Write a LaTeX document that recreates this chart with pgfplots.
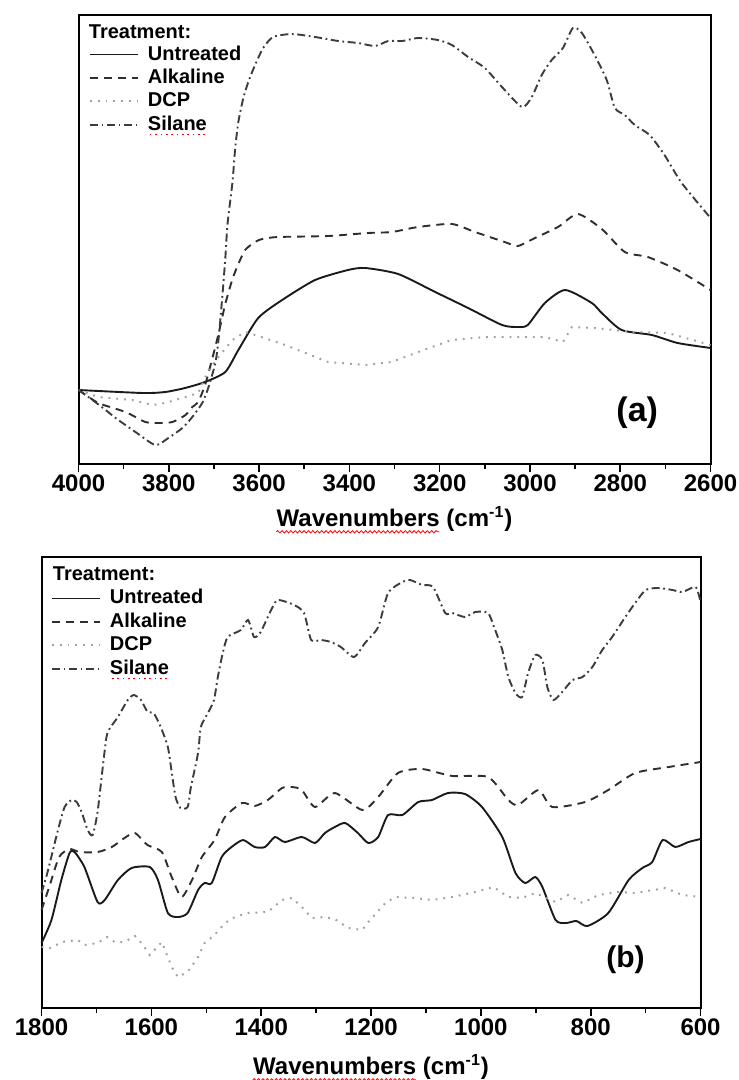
\documentclass[border=0pt]{standalone}
\usepackage{fontspec}
\setmainfont{Liberation Sans}
\usepackage{pgfplots}
\pgfplotsset{compat=1.18}
\usetikzlibrary{decorations.pathmorphing}
\newlength\tmpl
\newlength\wavw
% red dotted spell-check underline, made of small rules
\newcommand\reddots[1]{\settowidth{\tmpl}{#1}\rlap{#1}\raisebox{-2.6pt}{\color{red}\hbox to\tmpl{\xleaders\hbox to 2.6pt{\hss\rule{0.8pt}{0.8pt}\hss}\hfil}}}
\definecolor{cSolid}{HTML}{1A1A1A}
\definecolor{cDash}{HTML}{2E2E2E}
\definecolor{cDot}{HTML}{A0A0A0}
\definecolor{cDashDot}{HTML}{3C3C3C}
\tikzset{wavy/.style={red, line width=0.4pt, decorate,
    decoration={snake, amplitude=0.6pt, segment length=2.2pt}}}

\pgfplotsset{
  ftir/.style={
    scale only axis,
    x dir=reverse,
    axis line style={line width=1pt},
    tick align=outside,
    xtick pos=bottom,
    ytick=\empty,
    minor x tick num=1,
    major tick length=4pt,
    minor tick length=2.5pt,
    tick style={line width=0.8pt, black},
    tick label style={font=\fontsize{12}{14}\selectfont\bfseries},
    xticklabel style={yshift=2pt},
    /pgf/number format/assume math mode=true,
    /pgf/number format/1000 sep={},
    clip=false,
    legend cell align=left,
    legend image code/.code={\draw[#1] (0pt,0pt) -- (24pt,0pt);},
    legend style={draw=none, fill=none, anchor=north west,
      font=\fontsize{10}{12}\selectfont\bfseries,
      row sep=2.2pt, column sep=4.5pt, inner sep=0pt,
      nodes={inner sep=0pt, text height=7.5pt, text depth=2pt}},
    every axis plot/.append style={line width=0.95pt},
  },
  untreated/.style={cSolid, solid, smooth, tension=0.4},
  alkaline/.style={cDash, dash pattern=on 4pt off 3pt, smooth, tension=0.4},
  dcp/.style={cDot, line width=1pt, dash pattern=on 0.9pt off 3pt},
  silane/.style={cDashDot, dash pattern=on 4pt off 1.8pt on 0.9pt off 1.8pt, smooth, tension=0.4},
}

\begin{document}
\settowidth{\wavw}{\fontsize{12}{14}\selectfont\bfseries Wavenumbers}
\begin{tikzpicture}
\useasboundingbox (0,0) rectangle (366.5pt,-540pt);

% ---------------- panel (a) ----------------
\begin{axis}[ftir, at={(36.5pt,-232pt)}, anchor=south west,
  width=316pt, height=224.5pt,
  xmin=2600, xmax=4000, ymin=0, ymax=449,
  xtick={2600,2800,...,4000},
  legend style={at={(rel axis cs:0.0158,0.934)}}]
\addplot[untreated] coordinates {
(4000,74)(3858,71)(3808,72)(3764,76)(3720,82)(3675,92)(3646,114)(3602,146)
(3549,164)(3476,184)(3403,194)(3365,196)(3292,190)(3210,172)(3137,156)
(3062,139)(3027,137)(3005,139)(2967,161)(2922,174)(2863,161)(2841,151)
(2797,134)(2730,129)(2673,121)(2600,116)};
\addlegendentry{Untreated}
\addplot[alkaline] coordinates {
(4000,74)(3956,61)(3896,52)(3852,42)(3823,41)(3792,42)(3763,49)(3748,57)
(3735,62)(3719,80)(3704,105)(3690,130)(3675,160)(3659,185)(3646,200)
(3631,214)(3609,222)(3593,225)(3558,227)(3447,228)(3359,231)(3306,232)
(3248,237)(3173,240)(3122,232)(3056,222)(3027,218)(2989,226)(2938,237)
(2894,250)(2841,235)(2790,212)(2739,207)(2673,194)(2600,174)};
\addlegendentry{Alkaline}
\addplot[dcp] coordinates {
(4000,74)(3956,67)(3881,64)(3836,59)(3808,61)(3770,66)(3735,71)(3712,94)
(3690,107)(3659,124)(3631,132)(3609,129)(3542,119)(3447,102)(3365,99)
(3306,102)(3248,112)(3173,124)(3100,127)(3027,127)(2967,127)(2927,122)
(2907,137)(2857,136)(2768,132)(2695,131)(2600,119)};
\addlegendentry{DCP}
\addplot[silane] coordinates {
(4000,74)(3978,67)(3940,54)(3918,46)(3874,32)(3830,19)(3801,26)(3770,36)
(3748,47)(3726,61)(3712,77)(3697,101)(3690,124)(3682,165)(3675,205)
(3670,240)(3659,282)(3653,316)(3646,342)(3635,366)(3624,382)(3609,399)
(3591,416)(3569,427)(3527,430)(3476,427)(3425,423)(3381,421)(3343,418)
(3314,423)(3283,423)(3248,426)(3204,424)(3173,419)(3137,407)(3100,396)
(3062,377)(3018,357)(2996,367)(2974,389)(2952,404)(2927,416)(2905,436)
(2885,431)(2857,409)(2830,384)(2812,356)(2790,349)(2768,339)(2735,329)
(2702,309)(2664,281)(2600,246)};
\addlegendentry{\reddots{Silane}}
\node[anchor=base west, font=\fontsize{10}{12}\selectfont\bfseries, inner sep=0pt]
  at (rel axis cs:0.0158,0.948) {Treatment:};
\node[font=\fontsize{17}{20}\selectfont\bfseries]
  at (rel axis cs:0.884,0.114) {(a)};
\node[name=xla, anchor=base, inner sep=0pt, font=\fontsize{12}{14}\selectfont\bfseries]
  at (rel axis cs:0.5,0) [yshift=-31.3pt] {Wavenumbers (cm\textsuperscript{-1})};
\end{axis}
\draw[wavy] ([yshift=-2.6pt]xla.base west) -- ++(\wavw,0);

% ---------------- panel (b) ----------------
\begin{axis}[ftir, at={(18pt,-504pt)}, anchor=south west,
  width=329.5pt, height=225.5pt,
  xmin=600, xmax=1800, ymin=4, ymax=455,
  xtick={600,800,...,1800},
  legend style={at={(rel axis cs:0.0137,0.930)}}]
\addplot[untreated] coordinates {
(1800,69)(1782,92)(1764,132)(1749,159)(1740,160)(1722,145)(1698,110)
(1685,112)(1661,132)(1636,144)(1603,145)(1588,132)(1570,99)(1552,95)
(1534,99)(1515,122)(1503,129)(1490,129)(1472,155)(1454,165)(1433,172)
(1412,165)(1393,165)(1375,175)(1357,170)(1326,175)(1302,169)(1284,179)
(1266,185)(1247,189)(1224,179)(1205,169)(1187,175)(1169,197)(1143,197)
(1114,210)(1089,212)(1060,219)(1029,218)(998,205)(961,175)(937,139)
(919,129)(901,135)(888,125)(864,92)(845,89)(826,91)(806,86)(768,99)
(731,132)(706,144)(688,150)(669,172)(646,165)(622,170)(600,173)};
\addlegendentry{Untreated}
\addplot[alkaline] coordinates {
(1800,102)(1786,125)(1768,155)(1749,163)(1731,160)(1698,160)(1672,165)
(1649,174)(1630,179)(1607,167)(1581,160)(1563,135)(1545,115)(1526,132)
(1508,155)(1485,172)(1466,195)(1435,209)(1412,206)(1388,212)(1362,224)
(1344,225)(1326,222)(1302,205)(1266,219)(1216,202)(1187,215)(1151,239)
(1107,243)(1052,236)(987,235)(950,212)(932,207)(895,222)(870,205)
(810,210)(768,222)(719,239)(658,245)(600,250)};
\addlegendentry{Alkaline}
\addplot[dcp] coordinates {
(1800,65)(1782,64)(1764,70)(1734,72)(1722,67)(1698,69)(1681,75)(1667,70)
(1649,70)(1630,76)(1618,69)(1603,57)(1581,70)(1563,45)(1552,35)(1534,40)
(1515,55)(1503,69)(1485,77)(1466,89)(1448,95)(1424,99)(1388,100)(1362,112)
(1344,114)(1326,105)(1308,94)(1284,95)(1266,93)(1242,84)(1216,82)(1205,90)
(1174,109)(1156,115)(1120,114)(1089,112)(1052,115)(1010,120)(977,125)
(950,115)(925,114)(901,119)(864,110)(841,117)(815,109)(786,117)(750,120)
(719,119)(664,124)(633,117)(600,115)};
\addlegendentry{DCP}
\addplot[silane] coordinates {
(1800,119)(1789,140)(1771,180)(1758,205)(1745,212)(1736,210)(1727,200)
(1716,182)(1707,177)(1698,200)(1687,252)(1680,279)(1661,295)(1643,312)
(1632,317)(1619,312)(1607,300)(1596,299)(1583,285)(1570,265)(1563,240)
(1556,215)(1547,204)(1534,205)(1528,225)(1515,259)(1510,285)(1497,299)
(1486,312)(1479,335)(1470,359)(1461,375)(1437,382)(1424,392)(1413,375)
(1401,380)(1382,402)(1370,412)(1340,407)(1322,399)(1309,372)(1291,372)
(1273,370)(1255,365)(1231,355)(1211,369)(1187,385)(1169,419)(1143,430)
(1129,432)(1107,427)(1087,425)(1065,399)(1052,399)(1029,395)(1010,400)
(987,399)(974,382)(961,362)(950,335)(937,319)(925,315)(914,339)(901,357)
(888,352)(879,325)(868,312)(852,320)(833,332)(815,335)(797,345)(779,362)
(761,375)(737,395)(719,409)(700,422)(677,424)(651,422)(633,420)(609,425)
(600,410)};
\addlegendentry{\reddots{Silane}}
\node[anchor=base west, font=\fontsize{10}{12}\selectfont\bfseries, inner sep=0pt]
  at (rel axis cs:0.0167,0.947) {Treatment:};
\node[font=\fontsize{15}{18}\selectfont\bfseries]
  at (rel axis cs:0.886,0.106) {(b)};
\node[name=xlb, anchor=base, inner sep=0pt, font=\fontsize{12}{14}\selectfont\bfseries]
  at (rel axis cs:0.5,0) [yshift=-33.3pt] {Wavenumbers (cm\textsuperscript{-1})};
\end{axis}
\draw[wavy] ([yshift=-2.6pt]xlb.base west) -- ++(\wavw,0);
\end{tikzpicture}
\end{document}
